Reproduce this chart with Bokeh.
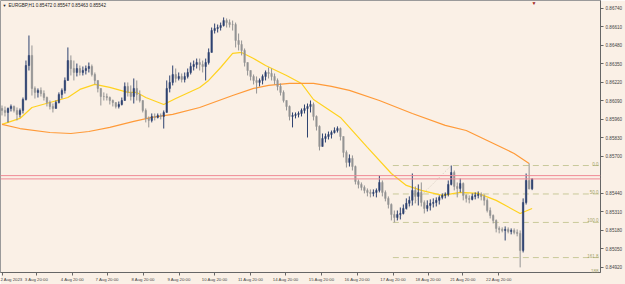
from bokeh.plotting import figure
from bokeh.models import (Range1d, FixedTicker, NumeralTickFormatter, CustomJSTickFormatter,
                          Span, Label, ColumnDataSource)
from bokeh.embed import file_html
from bokeh.resources import INLINE

# ---------------- data (prices in points, 1 point = 0.00001) ----------------
symbol = "EURGBP,H1"
first_open = 86037
highs = [
    86058, 86051, 86044, 86065, 86058, 86044, 86037, 86114, 86374, 86550,
    86480, 86192, 86178, 86185, 86164, 86121, 86093, 86072, 86093, 86150,
    86178, 86255, 86466, 86410, 86374, 86353, 86339, 86332, 86339, 86360,
    86346, 86290, 86234, 86178, 86150, 86142, 86121, 86100, 86079, 86086,
    86114, 86220, 86220, 86199, 86248, 86234, 86164, 86093, 86037, 85981,
    86002, 86002, 86002, 86002, 86023, 86234, 86269, 86339, 86318, 86290,
    86283, 86290, 86318, 86360, 86374, 86388, 86388, 86374, 86388, 86459,
    86606, 86634, 86627, 86641, 86677, 86670, 86663, 86655, 86641, 86564,
    86515, 86459, 86360, 86304, 86276, 86262, 86248, 86276, 86304, 86325,
    86318, 86283, 86248, 86213, 86164, 86093, 86058, 86009, 86009, 86016,
    86037, 86065, 86072, 86093, 86079, 85988, 85918, 85861, 85861, 85875,
    85882, 85904, 85911, 85904, 85840, 85742, 85714, 85707, 85636, 85538,
    85517, 85496, 85475, 85468, 85468, 85475, 85566, 85531, 85461, 85419,
    85370, 85320, 85320, 85341, 85362, 85405, 85419, 85580, 85489, 85503,
    85517, 85391, 85391, 85398, 85405, 85412, 85426, 85440, 85447, 85531,
    85636, 85601, 85517, 85545, 85517, 85433, 85426, 85440, 85447, 85454,
    85447, 85433, 85405, 85341, 85292, 85257, 85208, 85201, 85208, 85201,
    85194, 85194, 85187, 85180, 85405, 85580, 85651, 85547,
]
lows = [
    85988, 85981, 85939, 86016, 86009, 85953, 85974, 86002, 86093, 86304,
    86128, 86107, 86114, 86121, 86093, 86051, 86030, 86009, 86037, 86072,
    86107, 86142, 86234, 86269, 86234, 86262, 86269, 86269, 86276, 86290,
    86262, 86206, 86150, 86058, 86093, 86093, 86065, 86051, 86037, 86037,
    86058, 86093, 86121, 86093, 86072, 86093, 86079, 86009, 85939, 85904,
    85939, 85953, 85967, 85960, 85896, 86009, 86150, 86199, 86220, 86234,
    86220, 86220, 86248, 86276, 86304, 86318, 86304, 86290, 86234, 86346,
    86431, 86564, 86571, 86585, 86613, 86606, 86606, 86585, 86466, 86445,
    86410, 86332, 86269, 86234, 86206, 86142, 86192, 86206, 86234, 86248,
    86234, 86206, 86164, 86128, 86079, 86023, 85953, 85904, 85967, 85974,
    85981, 86002, 85833, 86009, 85953, 85882, 85742, 85770, 85798, 85819,
    85826, 85861, 85868, 85812, 85693, 85622, 85629, 85601, 85503, 85475,
    85461, 85440, 85419, 85412, 85419, 85412, 85447, 85419, 85384, 85334,
    85250, 85236, 85250, 85257, 85292, 85327, 85348, 85355, 85370, 85355,
    85348, 85299, 85313, 85320, 85341, 85348, 85362, 85398, 85405, 85419,
    85496, 85461, 85412, 85447, 85391, 85376, 85370, 85391, 85398, 85405,
    85391, 85355, 85306, 85264, 85229, 85166, 85159, 85166, 85109, 85159,
    85152, 85152, 85138, 84920, 85025, 85362, 85468, 85463,
]
closes = [
    86023, 86009, 86037, 86051, 86023, 85995, 86023, 86100, 86339, 86410,
    86178, 86150, 86164, 86142, 86114, 86079, 86051, 86037, 86079, 86135,
    86164, 86234, 86374, 86318, 86290, 86318, 86290, 86304, 86318, 86332,
    86276, 86234, 86178, 86121, 86121, 86114, 86093, 86079, 86051, 86065,
    86093, 86192, 86150, 86121, 86178, 86135, 86093, 86023, 85967, 85953,
    85981, 85974, 85988, 85981, 86009, 86178, 86220, 86276, 86248, 86262,
    86241, 86262, 86290, 86332, 86346, 86360, 86346, 86332, 86360, 86431,
    86585, 86599, 86606, 86620, 86655, 86641, 86627, 86627, 86515, 86487,
    86445, 86360, 86304, 86262, 86234, 86220, 86234, 86262, 86290, 86283,
    86262, 86234, 86192, 86150, 86093, 86051, 85981, 85988, 85995, 86002,
    86023, 86037, 86051, 86065, 85981, 85911, 85770, 85826, 85840, 85854,
    85868, 85882, 85896, 85840, 85728, 85658, 85686, 85629, 85524, 85503,
    85482, 85461, 85447, 85440, 85447, 85461, 85517, 85447, 85405, 85362,
    85292, 85271, 85292, 85299, 85334, 85370, 85391, 85461, 85419, 85447,
    85376, 85334, 85355, 85370, 85376, 85391, 85412, 85426, 85433, 85503,
    85587, 85489, 85475, 85510, 85426, 85405, 85398, 85419, 85426, 85433,
    85419, 85391, 85320, 85285, 85250, 85194, 85187, 85180, 85187, 85173,
    85180, 85166, 85159, 85039, 85376, 85531, 85472, 85542,
]

# moving averages (bar index, value in points)
fast_idx = [0, 6, 10, 16, 22, 26, 31, 36, 42, 45, 48, 54, 58, 66, 69, 73, 77, 80, 84, 88,
            95, 100, 104, 113, 122, 130, 135, 140, 147, 153, 159, 165, 173, 177]
fast_val = [85925, 85967, 86044, 86079, 86114, 86171, 86206, 86185, 86150, 86150, 86114,
            86065, 86107, 86185, 86234, 86325, 86424, 86431, 86388, 86339, 86269, 86213,
            86100, 85974, 85763, 85580, 85496, 85461, 85426, 85447, 85440, 85391, 85299, 85334]
slow_idx = [0, 6, 16, 23, 29, 36, 44, 50, 57, 66, 77, 84, 89, 96, 104, 110, 116, 126, 137,
            148, 155, 162, 171, 176]
slow_val = [85925, 85896, 85868, 85861, 85875, 85904, 85946, 85974, 85995, 86044, 86128,
            86178, 86199, 86213, 86213, 86192, 86164, 86093, 86002, 85918, 85882, 85812,
            85721, 85651]

bid = 0.85542
ask = 0.85565

fib_hi = 0.85636
fib_lo = 0.85236
fib_hi_bar = 150
fib_lo_bar = 131
fib_levels = [0.0, 50.0, 100.0, 161.8, 188.0]
fib_labels = ["0.0", "50.0", "100.0", "161.8", "188"]

x_tick_bars = [0.2, 11.5, 23.5, 35.1, 47.1, 59.1, 71.0, 83.0, 94.7, 106.7, 118.6, 130.6,
               142.3, 153.9, 165.9]
x_tick_labels = ["2 Aug 2023", "3 Aug 20:00", "4 Aug 20:00", "7 Aug 20:00", "8 Aug 20:00",
                 "9 Aug 20:00", "10 Aug 20:00", "11 Aug 20:00", "14 Aug 20:00", "15 Aug 20:00",
                 "16 Aug 20:00", "17 Aug 20:00", "18 Aug 20:00", "21 Aug 20:00", "22 Aug 20:00"]
y_ticks = [0.84920, 0.85050, 0.85180, 0.85310, 0.85440, 0.85700, 0.85830, 0.85960,
           0.86090, 0.86220, 0.86350, 0.86480, 0.86610, 0.86740]

# ---------------- build ----------------
PT = 1e-5
opens = [first_open] + closes[:-1]
n = len(closes)
idx = list(range(n))
o = [v * PT for v in opens]
c = [v * PT for v in closes]
h = [v * PT for v in highs]
l = [v * PT for v in lows]

BG = "#faf0e6"
BULL = "#2e4270"
BEAR = "#949494"
FONT = "Liberation Sans"
FS = "4.6px"

cols = [BULL if cc > oo else BEAR for oo, cc in zip(o, c)]
src = ColumnDataSource(dict(i=idx, o=o, c=c, h=h, l=l,
                            top=[max(a, b) for a, b in zip(o, c)],
                            bot=[min(a, b) for a, b in zip(o, c)],
                            col=cols))

p = figure(width=625, height=284, output_backend="svg", toolbar_location=None,
           x_range=Range1d(-0.5, 199.83), y_range=Range1d(0.84884, 0.86796),
           y_axis_location="right", min_border_left=0, min_border_top=0,
           min_border_right=24, min_border_bottom=12,
           background_fill_color=BG, border_fill_color=BG)
p.grid.visible = False
p.outline_line_color = "#9a9a9a"

# fib levels
fib_prices = [fib_hi - (fib_hi - fib_lo) * lv / 100.0 for lv in fib_levels]
for fp, fl in zip(fib_prices, fib_labels):
    p.line([fib_lo_bar - 0.5, 199.83], [fp, fp], line_color="#c9c99a", line_width=1,
           line_dash="6 4")
    p.add_layout(Label(x=598, y=fp, x_units="screen", y_units="data", text=fl,
                       text_align="right", text_baseline="bottom", text_font=FONT,
                       text_font_size="4.5px", text_color="#a3a366"))
p.line([fib_lo_bar, fib_hi_bar], [fib_lo, fib_hi], line_color="#cfc6b8", line_width=1,
       line_dash="1 2")

# bid / ask lines
for lvl in (ask, bid):
    p.add_layout(Span(location=lvl, dimension="width", line_color="#f08a96", line_width=1))

# moving averages
p.line(fast_idx, [v * PT for v in fast_val], line_color="#ffd21f", line_width=1.2)
p.line(slow_idx, [v * PT for v in slow_val], line_color="#ff9a38", line_width=1.2)

# candles
p.segment(x0="i", y0="h", x1="i", y1="l", source=src, line_color="col", line_width=1)
p.vbar(x="i", width=0.5, top="top", bottom="bot", source=src, fill_color="col",
       line_color="col", line_width=0.5)

# axes
ya = p.yaxis[0]
ya.ticker = FixedTicker(ticks=y_ticks)
ya.formatter = NumeralTickFormatter(format="0.00000")
ya.axis_line_color = "#666666"
ya.major_tick_line_color = "#666666"
ya.major_tick_out = 3
ya.major_tick_in = 0
ya.minor_tick_line_color = None
ya.major_label_text_font = FONT
ya.major_label_text_font_size = FS
ya.major_label_text_color = "#444444"
ya.major_label_standoff = 2

xa = p.xaxis[0]
xa.ticker = FixedTicker(ticks=x_tick_bars)
xa.formatter = CustomJSTickFormatter(args=dict(pos=x_tick_bars, labels=x_tick_labels),
                                     code="const k = pos.indexOf(tick); return k >= 0 ? labels[k] : '';")
xa.axis_line_color = "#666666"
xa.major_tick_line_color = "#666666"
xa.major_tick_out = 3
xa.major_tick_in = 0
xa.minor_tick_line_color = None
xa.major_label_text_font = FONT
xa.major_label_text_font_size = "4.3px"
xa.major_label_text_color = "#444444"
xa.major_label_text_align = "left"
xa.major_label_standoff = 1

# header & price label
header = f"{symbol}  {opens[-1]*PT:.5f} {highs[-1]*PT:.5f} {lows[-1]*PT:.5f} {closes[-1]*PT:.5f}"
p.add_layout(Label(x=8, y=267, x_units="screen", y_units="screen", text=header,
                   text_baseline="middle", text_font=FONT, text_font_size=FS,
                   text_color="#222222"))
p.add_layout(Label(x=2, y=267, x_units="screen", y_units="screen", text="\u25bc",
                   text_baseline="middle", text_font=FONT, text_font_size="4px",
                   text_color="#222222"))
p.add_layout(Label(x=531, y=270, x_units="screen", y_units="screen", text="\u25bc",
                   text_baseline="middle", text_font=FONT, text_font_size="5px",
                   text_color="#a01818"))
p.add_layout(Label(x=602, y=closes[-1] * PT, x_units="screen", y_units="data",
                   text=f"{closes[-1]*PT:.5f}", text_baseline="middle", text_font=FONT,
                   text_font_size=FS, text_color="white", background_fill_color="black"))

open("out.html", "w").write(file_html(p, INLINE))
